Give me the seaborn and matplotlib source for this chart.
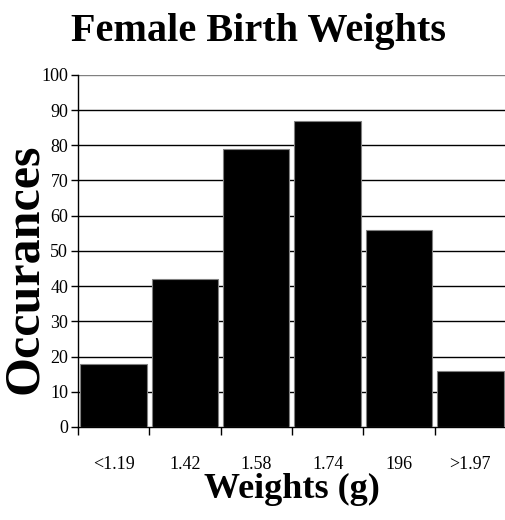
import matplotlib
matplotlib.use("Agg")
import matplotlib.pyplot as plt
import seaborn as sns
import pandas as pd
import numpy as np

categories = ["<1.19", "1.42", "1.58", "1.74", "196", ">1.97"]
occurances = [18, 42, 79, 87, 56, 16]
y_ticks = list(range(0, 101, 10))

sns.set_theme(style="white")
plt.rcParams["font.family"] = ["Liberation Serif", "DejaVu Serif"]
plt.rcParams["text.color"] = "black"
plt.rcParams["xtick.color"] = "black"
plt.rcParams["ytick.color"] = "black"
plt.rcParams["axes.labelcolor"] = "black"

df = pd.DataFrame({"weight": categories, "count": occurances})

fig = plt.figure(figsize=(5.06, 5.20), dpi=100)
ax = fig.add_axes([0.154, 0.179, 0.846, 0.677])

sns.barplot(data=df, x="weight", y="count", color="black", width=0.93,
            edgecolor="#808080", linewidth=0.8, saturation=1, ax=ax, zorder=3)

ax.set_xlim(-0.5, len(categories) - 0.5)
ax.set_ylim(0, 100)
ax.set_yticks(y_ticks)
ax.set_yticklabels([str(t) for t in y_ticks], fontsize=13)
for t in y_ticks[1:]:
    ax.axhline(t, color="#808080" if t == 100 else "black", lw=1.0, zorder=1)

# category boundaries carry the tick marks; labels sit at the centres
ax.set_xticks(np.arange(-0.5, len(categories), 1.0))
ax.set_xticklabels([])
ax.set_xticks(np.arange(len(categories)), minor=True)
ax.set_xticklabels(categories, minor=True, fontsize=13)
ax.tick_params(axis="x", which="major", direction="out", length=6, width=1, color="black", bottom=True)
ax.tick_params(axis="x", which="minor", length=0, pad=21)
ax.tick_params(axis="y", direction="out", length=5, width=1, color="black", left=True, pad=2)

for side in ["top", "right"]:
    ax.spines[side].set_visible(False)
ax.spines["left"].set_color("black")
ax.spines["bottom"].set_color("black")
ax.spines["left"].set_linewidth(1)
ax.spines["bottom"].set_linewidth(1)

ax.set_xlabel("Weights (g)", fontsize=26, fontweight="bold", labelpad=0)
ax.set_ylabel("Occurances", fontsize=36, fontweight="bold")
ax.yaxis.set_label_coords(-0.069, 0.45)
fig.suptitle("Female Birth Weights", fontsize=29, fontweight="bold", x=0.51, y=0.975)

fig.savefig("out.png", dpi=100)
